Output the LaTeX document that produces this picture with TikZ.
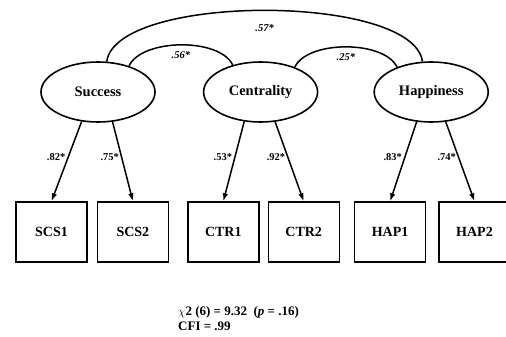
\documentclass[tikz,border=0pt]{standalone}
\usepackage{fontspec}
\setmainfont{Liberation Serif}
\usetikzlibrary{arrows.meta,positioning,shapes.geometric}

\begin{document}
\begin{tikzpicture}[x=1pt, y=1pt, >={Latex[length=8pt,width=5.5pt]},
	   font=\bfseries\fontsize{13}{15}\selectfont,
	   lat/.style={draw, ellipse, line width=1.6pt, minimum width=114pt, minimum height=60pt, inner sep=0pt, font=\bfseries\fontsize{14.5}{16}\selectfont},
	   obs/.style={draw, line width=1.4pt, minimum width=71pt, minimum height=60pt, inner sep=0pt, font=\bfseries\fontsize{14}{16}\selectfont},
	   ld/.style={left, pos=0.45, inner sep=2pt, font=\bfseries\fontsize{10.5}{12}\selectfont},
	   cv/.style={font=\bfseries\itshape\fontsize{10.5}{12}\selectfont}]
	  \useasboundingbox (0,0) rectangle (506,-337);
	  % latent factors
	  \node[lat] (suc) at (98,-92) {Success};
	  \node[lat, right=47pt of suc] (cen) {Centrality};
	  \node[lat, right=55pt of cen] (hap) {Happiness};
	  % indicators
	  \node[obs] (scs1) at (51.5,-232) {SCS1};
	  \node[obs, right=9pt of scs1] (scs2) {SCS2};
	  \node[obs, right=18pt of scs2] (ctr1) {CTR1};
	  \node[obs, right=8pt of ctr1] (ctr2) {CTR2};
	  \node[obs, right=14pt of ctr2] (hap1) {HAP1};
	  \node[obs, right=12pt of hap1] (hap2) {HAP2};
	  % loadings
	  \begin{scope}[line width=1.5pt]
	  \draw[->] (suc.-119) -- node[ld]{.82*} (scs1.north);
	  \draw[->] (suc.-64) -- node[ld]{.75*} (scs2.north);
	  \draw[->] (cen.-119) -- node[ld]{.53*} (ctr1.north);
	  \draw[->] (cen.-64) -- node[ld]{.92*} (ctr2.north);
	  \draw[->] (hap.-116) -- node[ld]{.83*} (hap1.north);
	  \draw[->] (hap.-64) -- node[ld]{.74*} (hap2.north);
	  % factor covariances
	  \draw (suc.40) to[out=65, in=115, looseness=0.75] node[cv, below=3pt]{.56*} (cen.136);
	  \draw (cen.36) to[out=65, in=115, looseness=0.75] node[cv, below=3pt]{.25*} (hap.144);
	  \draw (suc.74) to[out=82, in=98, looseness=0.56] node[cv, below=10pt]{.57*} (hap.106);
	  \end{scope}
	  % fit indices
	  \node[align=left, inner sep=0pt, anchor=north west] (fit) at (178,-306)
	    {$\chi$2 (6) = 9.32 \ (\textit{p} = .16)\\ CFI = .99};
	\end{tikzpicture}
\end{document}
